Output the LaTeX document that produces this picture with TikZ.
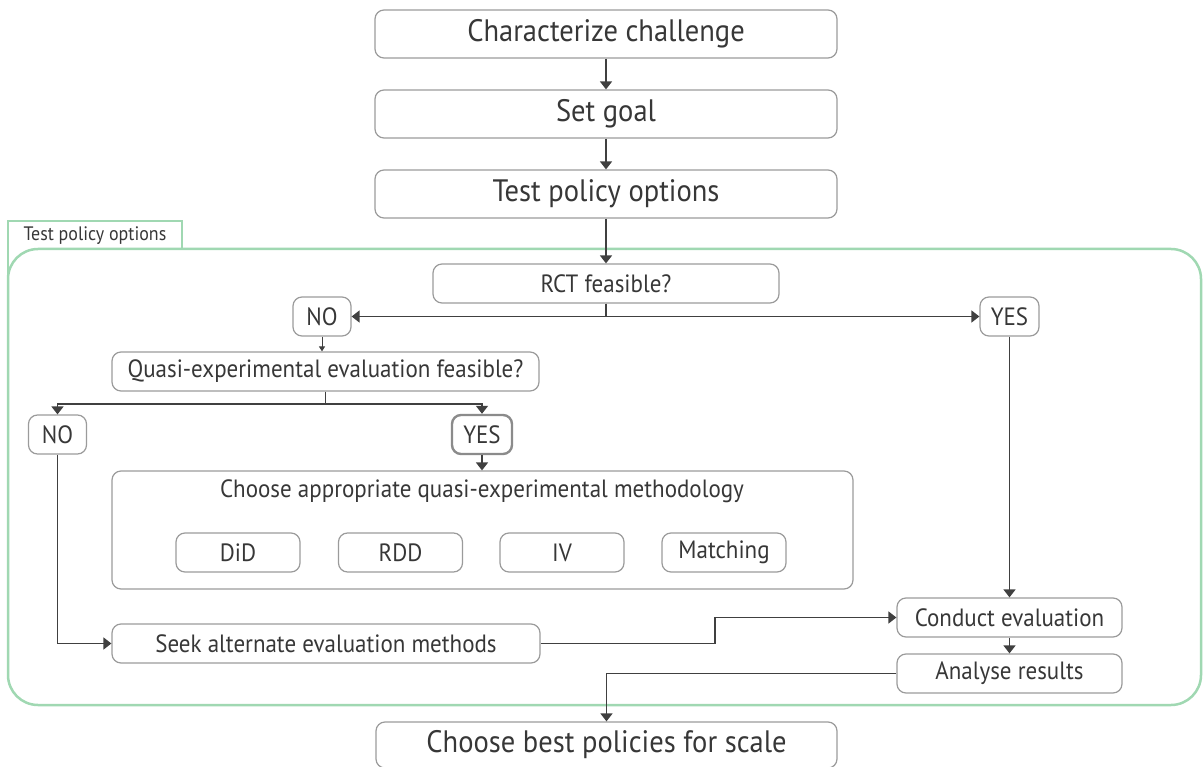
\documentclass[tikz,border=0pt]{standalone}
\usepackage{fontspec}
\setmainfont[FakeStretch=0.92]{PT Sans}
\usetikzlibrary{arrows.meta}
\definecolor{txt}{RGB}{55,55,55}
\definecolor{bord}{RGB}{155,155,155}
\definecolor{ln}{RGB}{64,64,64}
\definecolor{grn}{RGB}{160,216,178}
\tikzset{
  box/.style={draw=bord, line width=1.2pt, rounded corners=9pt, inner sep=0pt, text=txt, align=center},
  bigtxt/.style={font=\fontsize{31}{34}\selectfont},
  midtxt/.style={font=\fontsize{25}{28}\selectfont},
  arr/.style={draw=ln, line width=1.5pt, -{Triangle[width=12pt,length=8pt]}},
  sarr/.style={draw=ln, line width=1pt, -{Triangle[width=6pt,length=5pt]}},
}
\begin{document}
\begin{tikzpicture}[x=1pt,y=-1pt]
\useasboundingbox (0,0) rectangle (1203,767);
% green frame
\draw[grn, line width=2.5pt, rounded corners=30pt] (8,249) rectangle (1201,705);
\draw[grn, line width=2.5pt] (8,275) -- (8,221) -- (182,221) -- (182,249);
\node[text=txt, anchor=west, font=\fontsize{19.5}{22}\selectfont] (tab) at (20,236) {Test policy options};
% top boxes
\node[box, bigtxt, minimum width=462pt, minimum height=48pt] (cc) at (606,34) {Characterize challenge};
\node[box, bigtxt, minimum width=462pt, minimum height=48pt] (sg) at (606,114) {Set goal};
\node[box, bigtxt, minimum width=462pt, minimum height=48pt] (tp) at (606,194) {Test policy options};
\node[box, midtxt, minimum width=346pt, minimum height=39pt] (rct) at (606,283.5) {RCT feasible?};
\node[box, midtxt, minimum width=58pt, minimum height=39pt] (no1) at (322,316.5) {NO};
\node[box, midtxt, minimum width=59pt, minimum height=39pt] (yes1) at (1009.5,316.5) {YES};
\node[box, midtxt, minimum width=427pt, minimum height=39pt] (qe) at (325.5,371.5) {Quasi-experimental evaluation feasible?};
\node[box, midtxt, minimum width=58pt, minimum height=39pt] (no2) at (57.5,434.5) {NO};
\node[box, midtxt, minimum width=60pt, minimum height=39pt, line width=2.4pt, draw=bord!90!black] (yes2) at (482,434.5) {YES};
\node[box, minimum width=741pt, minimum height=118pt] (ca) at (482.5,530) {};
\node[text=txt, midtxt] (cat) at (482,491) {Choose appropriate quasi-experimental methodology};
\node[box, midtxt, minimum width=124pt, minimum height=39pt] (did) at (238,552.5) {DiD};
\node[box, midtxt, minimum width=124pt, minimum height=39pt] (rdd) at (400.5,552.5) {RDD};
\node[box, midtxt, minimum width=124pt, minimum height=39pt] (iv) at (562,552.5) {IV};
\node[box, midtxt, minimum width=124pt, minimum height=39pt] (mat) at (724,552.5) {Matching};
\node[box, midtxt, minimum width=428pt, minimum height=39pt] (seek) at (326,643.5) {Seek alternate evaluation methods};
\node[box, midtxt, minimum width=225pt, minimum height=39pt] (ce) at (1009.5,617.5) {Conduct evaluation};
\node[box, midtxt, minimum width=225pt, minimum height=39pt] (ar) at (1009.5,673.5) {Analyse results};
\node[box, bigtxt, minimum width=461pt, minimum height=46pt] (cb) at (606.5,745) {Choose best policies for scale};
% connectors
\draw[arr] (cc) -- (sg);
\draw[arr] (sg) -- (tp);
\draw[arr] (tp) -- (rct);
\draw[arr] (rct.south) |- (no1.east);
\draw[arr] (rct.south) |- (yes1.west);
\draw[sarr] (no1.south) -- (no1.south |- qe.north);
\draw[arr] (qe.south) -- ++(0,12.5) -| (no2.north);
\draw[arr] (qe.south) -- ++(0,12.5) -| (yes2.north);
\draw[arr] (yes2.south) -- (yes2.south |- ca.north);
\draw[arr] (yes1.south) -- (ce.north);
\draw[arr] (no2.south) |- (seek.west);
\coordinate (step1) at (715,643.5);
\draw[arr] (seek.east) -- (step1) |- (ce.west);
\draw[arr] (ce.south) -- (ar.north);
\draw[arr] (ar.west) -| (cb.north);
\end{tikzpicture}
\end{document}
